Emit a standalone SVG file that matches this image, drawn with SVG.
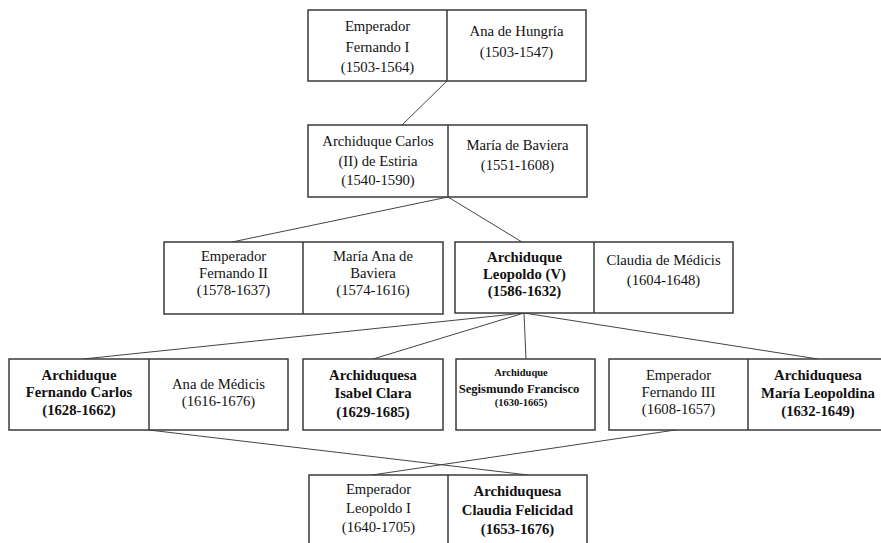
<svg xmlns="http://www.w3.org/2000/svg" width="881" height="543" viewBox="0 0 881 543">
<style>
.box{fill:#fff;stroke:#3a3a3a;stroke-width:1.5}
.div{stroke:#3a3a3a;stroke-width:1.5}
.con{stroke:#444;stroke-width:1;fill:none}
text{font-family:"Liberation Serif","Times New Roman",serif;font-size:14.7px;fill:#111;text-anchor:middle}
.b{font-weight:bold}
.s{font-size:10.5px;font-weight:bold}
.m{font-size:12.6px;font-weight:bold}
</style>
<rect width="881" height="543" fill="#fff"/>
<g id="connectors">
<line class="con" x1="447" y1="81" x2="402" y2="125"/>
<line class="con" x1="448" y1="197" x2="232" y2="242"/>
<line class="con" x1="448" y1="197" x2="522" y2="242"/>
<line class="con" x1="524" y1="313" x2="83" y2="359"/>
<line class="con" x1="524" y1="313" x2="373" y2="359"/>
<line class="con" x1="524" y1="313" x2="526" y2="359"/>
<line class="con" x1="524" y1="313" x2="818" y2="359"/>
<line class="con" x1="149" y1="430" x2="528" y2="475"/>
<line class="con" x1="682" y1="429" x2="372" y2="475"/>
</g>
<g id="fernando1-ana">
<rect class="box" x="308" y="10" width="278" height="71"/>
<line class="div" x1="447" y1="10" x2="447" y2="81"/>
<text x="377.5" y="31">Emperador</text>
<text x="377.5" y="52">Fernando I</text>
<text x="377.5" y="72">(1503-1564)</text>
<text x="516.5" y="36">Ana de Hungría</text>
<text x="516.5" y="57">(1503-1547)</text>
</g>
<g id="carlos-maria">
<rect class="box" x="308" y="125" width="279" height="72"/>
<line class="div" x1="448" y1="125" x2="448" y2="197"/>
<text x="378" y="146">Archiduque Carlos</text>
<text x="378" y="166">(II) de Estiria</text>
<text x="378" y="185">(1540-1590)</text>
<text x="517.5" y="150">María de Baviera</text>
<text x="517.5" y="170">(1551-1608)</text>
</g>
<g id="fernando2-mariaana">
<rect class="box" x="164" y="242" width="279" height="72"/>
<line class="div" x1="303" y1="242" x2="303" y2="314"/>
<text x="233.5" y="261">Emperador</text>
<text x="233.5" y="278">Fernando II</text>
<text x="233.5" y="295">(1578-1637)</text>
<text x="373" y="261">María Ana de</text>
<text x="373" y="278">Baviera</text>
<text x="373" y="295">(1574-1616)</text>
</g>
<g id="leopoldo-claudia">
<rect class="box" x="455" y="242" width="278" height="71"/>
<line class="div" x1="594" y1="242" x2="594" y2="313"/>
<text class="b" x="524.5" y="262">Archiduque</text>
<text class="b" x="524.5" y="279">Leopoldo (V)</text>
<text class="b" x="524.5" y="296">(1586-1632)</text>
<text x="663.5" y="265">Claudia de Médicis</text>
<text x="663.5" y="285">(1604-1648)</text>
</g>
<g id="fernandocarlos-ana">
<rect class="box" x="9" y="359" width="279" height="71"/>
<line class="div" x1="149" y1="359" x2="149" y2="430"/>
<text class="b" x="79" y="380">Archiduque</text>
<text class="b" x="79" y="397">Fernando Carlos</text>
<text class="b" x="79" y="415">(1628-1662)</text>
<text x="218.5" y="389">Ana de Médicis</text>
<text x="218.5" y="406">(1616-1676)</text>
</g>
<g id="isabel">
<rect class="box" x="303" y="359" width="140" height="71"/>
<text class="b" x="373" y="380">Archiduquesa</text>
<text class="b" x="373" y="398">Isabel Clara</text>
<text class="b" x="373" y="417">(1629-1685)</text>
</g>
<g id="segismundo">
<rect class="box" x="456" y="359" width="139" height="71"/>
<text class="s" x="521" y="376">Archiduque</text>
<text class="m" x="519" y="393">Segismundo Francisco</text>
<text class="s" x="521" y="406">(1630-1665)</text>
</g>
<g id="fernando3-marialeopoldina">
<rect class="box" x="609" y="359" width="279" height="71"/>
<line class="div" x1="748" y1="359" x2="748" y2="430"/>
<text x="678.5" y="380">Emperador</text>
<text x="678.5" y="397">Fernando III</text>
<text x="678.5" y="414">(1608-1657)</text>
<text class="b" x="818" y="380">Archiduquesa</text>
<text class="b" x="818" y="398">María Leopoldina</text>
<text class="b" x="818" y="416">(1632-1649)</text>
</g>
<g id="leopoldo1-claudiafelicidad">
<rect class="box" x="309" y="475" width="278" height="72"/>
<line class="div" x1="448" y1="475" x2="448" y2="547"/>
<text x="378.5" y="494">Emperador</text>
<text x="378.5" y="513">Leopoldo I</text>
<text x="378.5" y="532">(1640-1705)</text>
<text class="b" x="517.5" y="496">Archiduquesa</text>
<text class="b" x="517.5" y="515">Claudia Felicidad</text>
<text class="b" x="517.5" y="534">(1653-1676)</text>
</g>
</svg>
